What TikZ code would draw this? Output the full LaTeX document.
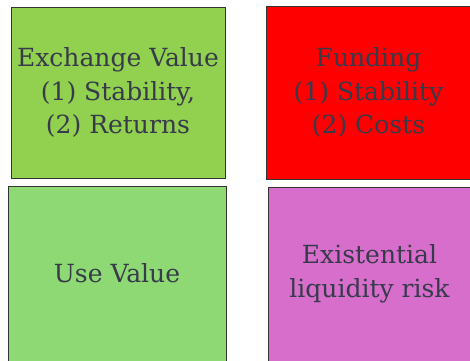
\documentclass[tikz,border=0pt]{standalone}
\usepackage{fontspec}
\setmainfont{DejaVu Serif}

\definecolor{exgreen}{HTML}{92D050}
\definecolor{usegreen}{HTML}{8ED973}
\definecolor{fundred}{HTML}{FF0000}
\definecolor{riskpink}{HTML}{D86ECC}
\definecolor{labelgrey}{HTML}{363A4A}

\tikzset{
    quadbox/.style={draw=black!80, line width=0.8pt, inner sep=0pt, align=center,
        text=labelgrey, font=\fontsize{25}{33.5}\selectfont}
}

\begin{document}
\begin{tikzpicture}[x=1pt, y=-1pt]
        \useasboundingbox (0, 0) rectangle (470, 360);

        % Top row
        \node [quadbox, fill=exgreen, minimum width=214pt, minimum height=171pt] (exchange) at (118, 92.5)
            {Exchange Value\\(1) Stability,\\(2) Returns};
        \node [quadbox, fill=fundred, minimum width=205pt, minimum height=173pt] (funding) at (368.5, 92.5)
            {Funding\\(1) Stability\\(2) Costs};

        % Bottom row
        \node [quadbox, fill=usegreen, minimum width=218pt, minimum height=175pt] (usevalue) at (117, 273.5)
            {Use Value};
        \node [quadbox, fill=riskpink, minimum width=203pt, minimum height=174pt] (risk) at (369.5, 274)
            {Existential\\liquidity risk};
    \end{tikzpicture}
\end{document}
